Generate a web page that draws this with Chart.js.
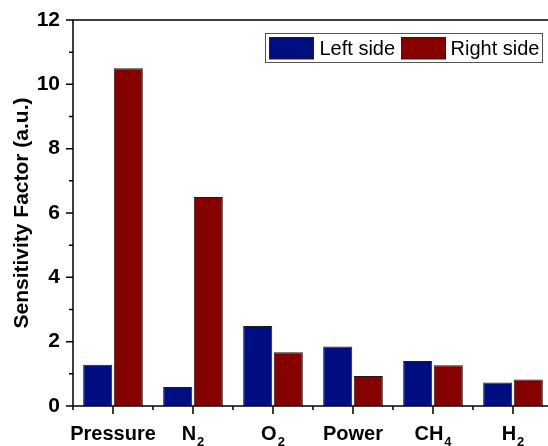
<!DOCTYPE html>
<html>
<head>
<meta charset="utf-8">
<script src="https://cdn.jsdelivr.net/npm/chart.js@4.4.1/dist/chart.umd.min.js"></script>
<style>
  html, body { margin: 0; padding: 0; background: #fff; overflow: hidden; }
  #wrap { width: 560px; height: 446px; }
</style>
</head>
<body>
<div id="wrap"><canvas id="c" width="560" height="446"></canvas></div>
<script>
// Sensitivity factors per parameter, left vs right side
const categories = ['Pressure', 'N₂', 'O₂', 'Power', 'CH₄', 'H₂'];
const leftSide   = [1.28, 0.59, 2.49, 1.85, 1.40, 0.73];
const rightSide  = [10.50, 6.50, 1.67, 0.93, 1.27, 0.82];
const seriesNames = ['Left side', 'Right side'];
const yTickValues = [0, 2, 4, 6, 8, 10, 12];
const yTitle = 'Sensitivity Factor (a.u.)';

const FONT = '"Liberation Sans", Arial, Helvetica, sans-serif';
const COLORS = ['#000E80', '#870000'];

// Unicode subscript digits -> plain digits (drawn smaller and lowered)
const SUBS = { '₀':'0','₁':'1','₂':'2','₃':'3','₄':'4','₅':'5','₆':'6','₇':'7','₈':'8','₉':'9' };
function splitLabel(s) {
  let main = '', sub = '';
  for (const ch of s) {
    if (SUBS[ch] !== undefined) sub += SUBS[ch]; else main += ch;
  }
  return { main, sub };
}

// Frame, tick marks (major + minor), category labels with subscripts, boxed legend
const decorations = {
  id: 'decorations',
  afterDatasetsDraw(chart) {
    const { ctx, chartArea: a, scales: { x, y } } = chart;
    ctx.save();
    ctx.strokeStyle = '#000';
    ctx.lineWidth = 1.5;
    ctx.lineCap = 'butt';

    // plot frame
    ctx.strokeRect(a.left, a.top, a.right - a.left, a.bottom - a.top);

    // y ticks: major at labelled values, minor halfway between
    ctx.beginPath();
    yTickValues.forEach((v, i) => {
      const py = y.getPixelForValue(v);
      ctx.moveTo(a.left - 7, py); ctx.lineTo(a.left, py);
      if (i < yTickValues.length - 1) {
        const pm = y.getPixelForValue((v + yTickValues[i + 1]) / 2);
        ctx.moveTo(a.left - 4, pm); ctx.lineTo(a.left, pm);
      }
    });
    // x ticks: major at category centres, minor at category boundaries
    categories.forEach((c, i) => {
      const px = x.getPixelForTick(i);
      ctx.moveTo(px, a.bottom); ctx.lineTo(px, a.bottom + 8);
      const half = (x.getPixelForTick(1) - x.getPixelForTick(0)) / 2;
      ctx.moveTo(px - half, a.bottom); ctx.lineTo(px - half, a.bottom + 4);
    });
    ctx.stroke();

    // category labels
    ctx.fillStyle = '#000';
    ctx.textBaseline = 'alphabetic';
    ctx.textAlign = 'left';
    categories.forEach((c, i) => {
      const { main, sub } = splitLabel(c);
      ctx.font = 'bold 20px ' + FONT;
      const wm = ctx.measureText(main).width;
      ctx.font = 'bold 13px ' + FONT;
      const ws = sub ? ctx.measureText(sub).width + 1 : 0;
      const x0 = x.getPixelForTick(i) - (wm + ws) / 2;
      ctx.font = 'bold 20px ' + FONT;
      ctx.fillText(main, x0, 440);
      if (sub) {
        ctx.font = 'bold 13px ' + FONT;
        ctx.fillText(sub, x0 + wm + 1, 445.5);
      }
    });

    // legend box
    const bx = 265.5, by = 33.5, bw = 277, bh = 29;
    ctx.fillStyle = '#fff';
    ctx.fillRect(bx, by, bw, bh);
    ctx.strokeStyle = '#555';
    ctx.lineWidth = 1;
    ctx.strokeRect(bx, by, bw, bh);
    const items = [
      { sx: 269.5, tx: 319.5 },
      { sx: 401.5, tx: 450.5 }
    ];
    ctx.font = '20px ' + FONT;
    ctx.textBaseline = 'middle';
    chart.data.datasets.forEach((ds, i) => {
      const it = items[i];
      ctx.fillStyle = ds.backgroundColor;
      ctx.fillRect(it.sx, 37.5, 44, 21.5);
      ctx.strokeStyle = '#222';
      ctx.strokeRect(it.sx, 37.5, 44, 21.5);
      ctx.fillStyle = '#000';
      ctx.fillText(ds.label, it.tx, 49);
    });
    ctx.restore();
  }
};

new Chart(document.getElementById('c'), {
  type: 'bar',
  data: {
    labels: categories,
    datasets: [
      { label: seriesNames[0], data: leftSide, backgroundColor: COLORS[0], borderColor: '#1c1c1c', borderWidth: 1 },
      { label: seriesNames[1], data: rightSide, backgroundColor: COLORS[1], borderColor: '#1c1c1c', borderWidth: 1 }
    ]
  },
  options: {
    responsive: false,
    animation: false,
    devicePixelRatio: 1,
    layout: { padding: { top: 20, right: 7, left: 0, bottom: 0 } },
    datasets: { bar: { categoryPercentage: 0.765, barPercentage: 0.95 } },
    plugins: { legend: { display: false }, tooltip: { enabled: false } },
    scales: {
      x: {
        grid: { display: false, drawTicks: false },
        border: { display: false },
        ticks: { display: false },
        afterFit(scale) { scale.height = 40; }
      },
      y: {
        min: 0, max: 12,
        afterBuildTicks(scale) { scale.ticks = yTickValues.map(v => ({ value: v })); },
        grid: { display: false, drawTicks: true, tickLength: 7 },
        border: { display: false },
        ticks: { padding: 6, color: '#000', font: { family: FONT, size: 21, weight: 'bold' } },
        title: {
          display: true, text: yTitle, color: '#000',
          font: { family: FONT, size: 21, weight: 'bold' },
          padding: { top: 10, bottom: 0 }
        },
        afterFit(scale) { scale.width = 73; }
      }
    }
  },
  plugins: [decorations]
});
</script>
</body>
</html>
